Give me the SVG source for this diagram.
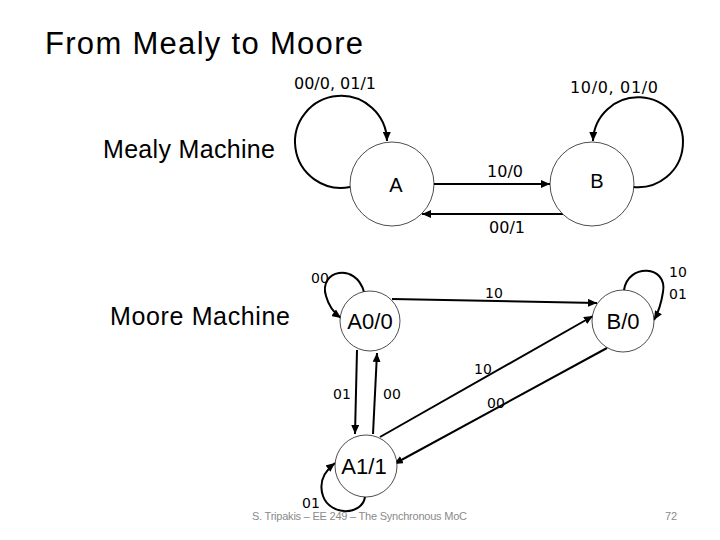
<svg xmlns="http://www.w3.org/2000/svg" width="720" height="540" viewBox="0 0 720 540">
<defs>
<marker id="arr" markerUnits="userSpaceOnUse" markerWidth="9" markerHeight="8" refX="9" refY="4" orient="auto">
<path d="M0,0 L9,4 L0,8 z" fill="#000"/>
</marker>
<style>
.st{fill:#fff;stroke:#000;stroke-width:0.7}
.e{fill:none;stroke:#000;stroke-width:2;marker-end:url(#arr)}
.big{font-family:"Liberation Sans",Arial,sans-serif;fill:#000}
.lbl{font-family:"DejaVu Sans",Verdana,sans-serif;font-size:16px;fill:#000;text-anchor:middle}
.sm{font-family:"DejaVu Sans",Verdana,sans-serif;font-size:14px;fill:#000;text-anchor:middle}
.sn{font-family:"Liberation Sans",Arial,sans-serif;font-size:22px;fill:#000;text-anchor:middle}
.ft{font-family:"Liberation Sans",Arial,sans-serif;font-size:11px;fill:#8a8a8a}
</style>
</defs>
<rect width="720" height="540" fill="#fff"/>
<text class="big" x="45" y="54" font-size="31" textLength="318">From Mealy to Moore</text>
<text class="big" x="103" y="158" font-size="25" textLength="172">Mealy Machine</text>
<text class="big" x="110" y="325" font-size="25" textLength="180">Moore Machine</text>

<g id="connectors">
<path class="e" d="M 350 187 A 46 46 0 1 1 387 141"/>
<path class="e" d="M 633 187 A 45 45 0 1 0 593 141"/>
<path class="e" d="M 434 184 L 550 184"/>
<path class="e" d="M 563 214 L 422 214"/>
<path class="e" d="M 364 292 C 356 262, 318 270, 326 296 C 329 307, 334 313, 341 318"/>
<path class="e" d="M 624 290 C 628 263, 668 265, 663 292 C 661 305, 658 313, 654 320"/>
<path class="e" d="M 365 497 C 362 516, 330 516, 323 496 C 318 481, 326 470, 335 463"/>
<path class="e" d="M 392 299 L 597 303"/>
<path class="e" d="M 380 437 L 593 316"/>
<path class="e" d="M 607 348 L 394 464"/>
<path class="e" d="M 357 350 L 355 434"/>
<path class="e" d="M 373 434 L 377 353"/>
</g>

<g id="labels">
<text class="lbl" x="335" y="89">00/0, 01/1</text>
<text class="lbl" x="614" y="93" textLength="88">10/0, 01/0</text>
<text class="lbl" x="505" y="177">10/0</text>
<text class="lbl" x="507" y="233">00/1</text>
<text class="sm" x="320" y="283">00</text>
<text class="sm" x="494" y="298">10</text>
<text class="sm" x="678" y="277">10</text>
<text class="sm" x="678" y="299">01</text>
<text class="sm" x="342" y="399">01</text>
<text class="sm" x="392" y="399">00</text>
<text class="sm" x="483" y="374">10</text>
<text class="sm" x="496" y="408">00</text>
<text class="sm" x="311" y="508" font-size="16">01</text>
</g>

<g id="A">
<circle class="st" cx="392" cy="184" r="42"/>
<text class="big" x="396" y="192" font-size="20" text-anchor="middle">A</text>
</g>
<g id="B">
<circle class="st" cx="592" cy="184" r="42"/>
<text class="big" x="597" y="188" font-size="20" text-anchor="middle">B</text>
</g>
<g id="A00">
<circle class="st" cx="370" cy="321" r="30"/>
<text class="sn" x="370" y="329">A0/0</text>
</g>
<g id="B0">
<circle class="st" cx="623" cy="321" r="31"/>
<text class="sn" x="623" y="329">B/0</text>
</g>
<g id="A11">
<circle class="st" cx="366" cy="466" r="31"/>
<text class="sn" x="364" y="474">A1/1</text>
</g>

<text class="ft" x="252" y="520" textLength="215">S. Tripakis – EE 249 – The Synchronous MoC</text>
<text class="ft" x="665" y="520">72</text>
</svg>
